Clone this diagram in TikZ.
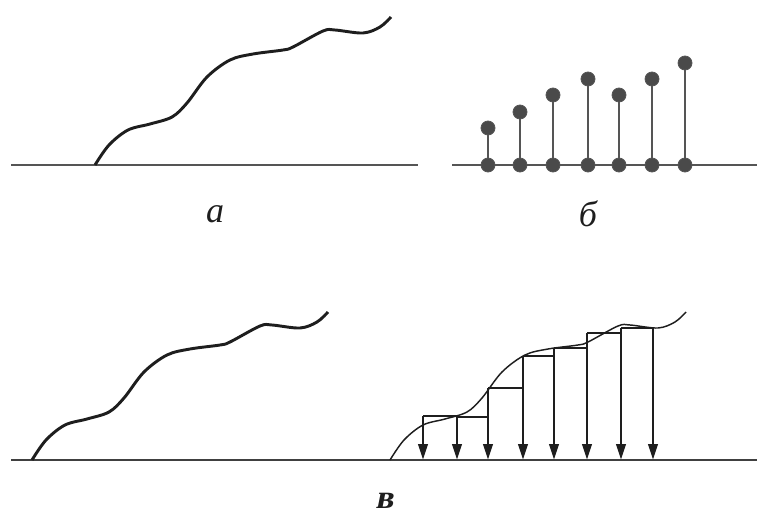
\documentclass[tikz,border=0pt]{standalone}
\usepackage{fontspec}
\setmainfont{Liberation Serif}
\usetikzlibrary{arrows.meta}
\definecolor{ink}{HTML}{1E1E1E}
\definecolor{greyline}{HTML}{555555}
\definecolor{dotfill}{HTML}{4A4A4A}
\begin{document}
\begin{tikzpicture}[x=0.75pt,y=-0.75pt,
  baseline line/.style={line width=1.9pt,draw=greyline},
  thick curve/.style={line width=2.2pt,draw=ink},
  thin curve/.style={line width=1.1pt,draw=ink},
  stem/.style={line width=2.2pt,draw=greyline},
  sample dot/.style={circle,fill=dotfill,draw=greyline,line width=0.6pt,inner sep=0pt,minimum size=10.5pt},
  hold/.style={line width=1.6pt,draw=ink},
  sample arrow/.style={line width=2.2pt,draw=ink,-{Triangle[length=12pt,width=7pt]}},
  panel label/.style={font=\fontsize{27}{30}\selectfont\itshape,text=ink,inner sep=0pt},
  wavy/.pic={\draw[pic actions] plot[smooth,tension=0.55] coordinates{
    (0,0) (14,-20) (33,-35) (55,-41) (77,-48) (92,-62) (112,-88) (135,-105)
    (158,-111) (188,-115) (198,-118) (228,-134) (240,-135) (268,-132) (285,-138) (296,-148)};}
]
\useasboundingbox (0,0) rectangle (757,514);

% ---------- panel a ----------
\coordinate (aL) at (11,165);
\coordinate (aR) at (418,165);
\draw[baseline line] (aL) -- (aR);
\pic[thick curve] at (95,165) {wavy};
\node[panel label] (la) at (215,214) {а};

% ---------- panel b ----------
\coordinate (bL) at (452,165);
\coordinate (bR) at (757,165);
\draw[baseline line] (bL) -- (bR);
\foreach \i/\x/\y in {1/488/128,2/520/112,3/553/95,4/588/79,5/619/95,6/652/79,7/685/63}{
  \node[sample dot] (b\i) at (\x,165) {};
  \node[sample dot] (t\i) at (\x,\y) {};
  \draw[stem] (b\i) -- (t\i);
}
\node[panel label] (lb) at (588,214) {б};

% ---------- panel v ----------
\coordinate (vL) at (11,460);
\coordinate (vR) at (757,460);
\draw[line width=1.9pt,draw=ink!85] (vL) -- (vR);
\pic[thick curve] at (32,460) {wavy};
\pic[thin curve] at (390,460) {wavy};
\foreach \i/\x/\y in {1/423/416,2/457/417,3/488/388,4/523/356,5/554/348,6/587/333,7/621/328,8/653/327}{
  \coordinate (s\i) at (\x,\y);
  \coordinate (g\i) at (\x,460);
}
\foreach \i/\j in {1/2,2/3,3/4,4/5,5/6,6/7,7/8}{
  \draw[hold] (s\i) -- (s\i -| g\j);
}
\foreach \i in {1,...,8}{
  \draw[sample arrow] (s\i) -- (g\i);
}
\node[panel label,font=\fontsize{25}{28}\selectfont\bfseries,xslant=0.2,transform shape] (lv) at (386,501) {в};
\end{tikzpicture}
\end{document}
